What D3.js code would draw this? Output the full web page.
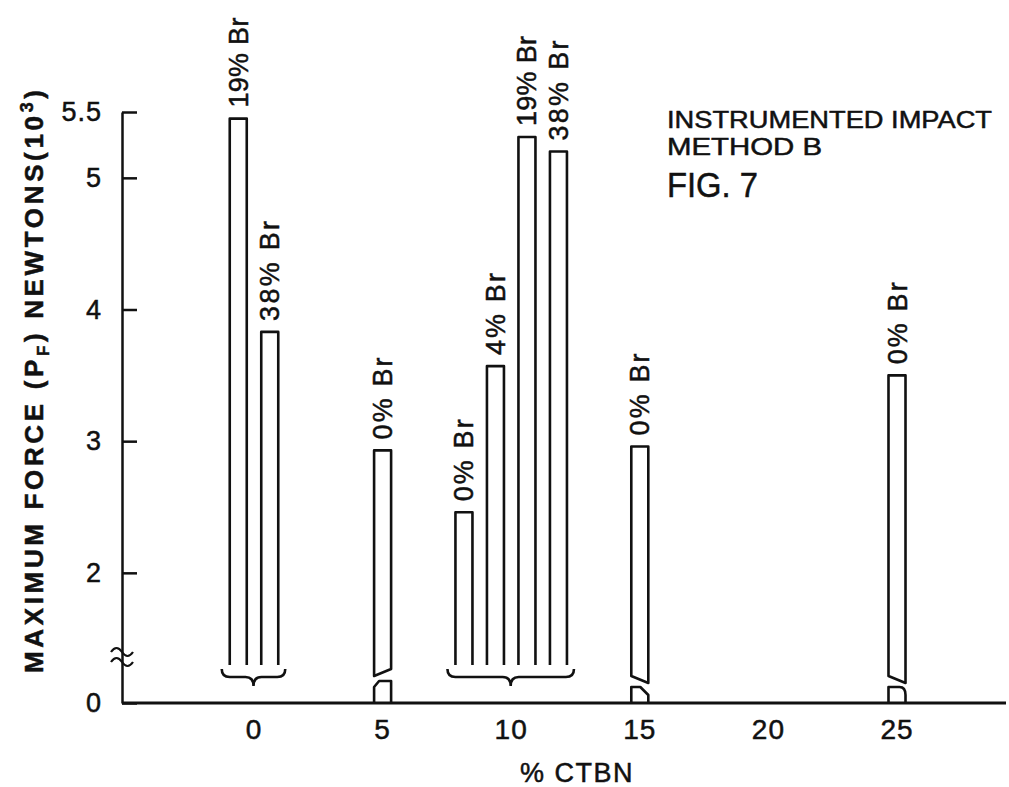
<!DOCTYPE html>
<html>
<head>
<meta charset="utf-8">
<script src="https://cdn.jsdelivr.net/npm/d3@7"></script>
<style>
  body { margin: 0; background: #fff; }
  svg { display: block; background: #fff; }
  text { font-family: "Liberation Sans", Arial, sans-serif; fill: #111; stroke: #111; stroke-width: 0.5; }
</style>
</head>
<body>
<div class="chart"></div>
<script>
// values (force in 10^3 N)
var ctbn = [0, 0, 5, 10, 10, 10, 10, 15, 25];
var bromine = ['19% Br', '38% Br', '0% Br', '0% Br', '4% Br', '19% Br', '38% Br', '0% Br', '0% Br'];
var maxForce = [5.45, 3.83, 2.93, 2.46, 3.57, 5.31, 5.20, 2.96, 3.50];

var xTicks = [0, 5, 10, 15, 20, 25];
var yTicks = [0, 2, 3, 4, 5, 5.5];
var yBreak = 1.3; // axis is broken below this value

var width = 1009, height = 787;
var axisX = 122;

// bar break drawing: slant of the cut for the single bars
var slant = { 5: -1, 15: 1, 25: 1 };

// rough glyph widths of the hand lettering, used to size the bar labels
function letterWidth(s) {
  return d3.sum(s.split(''), function(c) {
    if (c === '1') return 8;
    if (c === ' ') return 10;
    if (c === '%') return 22;
    if (c === 'r') return 14;
    return 18;
  });
}

var x = d3.scaleLinear().domain([0, 25]).range([254, 897]);
var y = d3.scaleLinear().domain([0, yBreak, 5.5]).range([703, 665, 112]);

var bars = ctbn.map(function(c, i) {
  return { ctbn: c, br: bromine[i], value: maxForce[i] };
});
var groups = d3.group(bars, function(d) { return d.ctbn; });

var step = 31.5;
groups.forEach(function(list, c) {
  var n = list.length;
  var sub = d3.scaleBand().domain(d3.range(n))
    .range([-n * step / 2, n * step / 2])
    .paddingInner(0.46).paddingOuter(0.23);
  list.forEach(function(d, i) {
    d.x0 = x(c) + sub(i);
    d.w = sub.bandwidth();
    d.n = n;
  });
});

var svg = d3.select('.chart').append('svg')
  .attr('width', width)
  .attr('height', height);

// y axis, ticks pointing inward
var yAxis = d3.axisLeft(y)
  .tickValues(yTicks)
  .tickSize(-15)
  .tickSizeOuter(0)
  .tickPadding(20)
  .tickFormat(function(d) { return d; });

var gy = svg.append('g')
  .attr('transform', 'translate(' + axisX + ',0)')
  .call(yAxis);
gy.select('.domain').attr('stroke', '#111').attr('stroke-width', 2.5);
gy.selectAll('.tick line').attr('stroke', '#111').attr('stroke-width', 2.5);
gy.selectAll('.tick text')
  .attr('font-size', 27)
  .attr('letter-spacing', 1)
  .style('font-family', '"Liberation Sans", Arial, sans-serif')
  .attr('fill', '#111');

// axis break squiggle
[y(yBreak) - 15, y(yBreak) - 5].forEach(function(yy) {
  svg.append('path')
    .attr('d', 'M' + (axisX - 11) + ',' + (yy + 2) + ' q5.5,-8 11,0 t11,0')
    .attr('fill', 'none')
    .attr('stroke', '#111')
    .attr('stroke-width', 2.2);
});

// x axis baseline
svg.append('line')
  .attr('x1', axisX).attr('x2', 1006)
  .attr('y1', y(0)).attr('y2', y(0))
  .attr('stroke', '#111')
  .attr('stroke-width', 3);

svg.append('g').selectAll('text')
  .data(xTicks)
  .enter().append('text')
  .attr('x', function(d) { return x(d); })
  .attr('y', 739)
  .attr('text-anchor', 'middle')
  .attr('font-size', 28)
  .attr('letter-spacing', 1)
  .text(function(d) { return d; });

// bars
var yb = y(yBreak);
var y0 = y(0);
var barG = svg.append('g')
  .attr('fill', '#fff')
  .attr('stroke', '#111')
  .attr('stroke-width', 2.6)
  .attr('stroke-linejoin', 'round');

bars.forEach(function(d) {
  var xl = d.x0, xr = d.x0 + d.w, yt = y(d.value);
  if (d.n > 1) {
    // grouped bars stop at the break, brace below
    barG.append('path')
      .attr('d', 'M' + xl + ',' + yb + 'V' + yt + 'H' + xr + 'V' + yb);
  } else {
    var s = slant[d.ctbn] || 1;
    var yl = yb + 11, yr = yb + 11 + 7 * s;
    barG.append('path')
      .attr('d', 'M' + xl + ',' + yl + 'V' + yt + 'H' + xr + 'V' + yr + 'Z');
    var lower;
    if (s < 0) {
      lower = 'M' + xl + ',' + y0 + 'V' + (yb + 22) + 'L' + (xl + 5) + ',' + (yb + 16) +
        'H' + xr + 'V' + y0;
    } else if (d.ctbn === 15) {
      lower = 'M' + xl + ',' + y0 + 'V' + (yb + 22) + 'H' + (xr - 8) +
        'L' + xr + ',' + (yb + 30) + 'V' + y0;
    } else {
      lower = 'M' + xl + ',' + y0 + 'V' + (yb + 22) + 'H' + (xr - 6) +
        'Q' + xr + ',' + (yb + 22) + ' ' + xr + ',' + (yb + 30) + 'V' + y0;
    }
    barG.append('path').attr('d', lower).attr('fill', 'none');
  }
});

// braces under grouped bars
groups.forEach(function(list, c) {
  if (list.length < 2) return;
  var x0 = list[0].x0 - 8;
  var x1 = list[list.length - 1].x0 + list[list.length - 1].w + 7;
  var cx = (x0 + x1) / 2;
  var top = yb + 4, mid = yb + 12, tip = yb + 21;
  svg.append('path')
    .attr('d', 'M' + x0 + ',' + top + 'q0,8 8,8H' + (cx - 8) + 'q8,0 8,' + (tip - mid) +
      'q0,' + (mid - tip) + ' 8,' + (mid - tip) + 'H' + (x1 - 8) + 'q8,0 8,-8')
    .attr('fill', 'none')
    .attr('stroke', '#111')
    .attr('stroke-width', 2.6);
});

// bar labels, written upward
svg.append('g').selectAll('text')
  .data(bars)
  .enter().append('text')
  .attr('transform', function(d) {
    return 'translate(' + (d.x0 + d.w + 1) + ',' + (y(d.value) - 11) + ') rotate(-90)';
  })
  .attr('font-size', 27)
  .attr('textLength', function(d) { return letterWidth(d.br); })
  .attr('lengthAdjust', 'spacing')
  .text(function(d) { return d.br; });

// axis titles
svg.append('text')
  .attr('x', 577)
  .attr('y', 782)
  .attr('text-anchor', 'middle')
  .attr('font-size', 27)
  .attr('letter-spacing', 1.5)
  .text('% CTBN');

var yt = svg.append('text')
  .attr('transform', 'translate(43,673) rotate(-90)')
  .attr('font-size', 26)
  .attr('font-weight', 'bold')
  .attr('stroke-width', 0)
  .attr('textLength', 583)
  .attr('lengthAdjust', 'spacing');
yt.append('tspan').text('MAXIMUM  FORCE  (P');
yt.append('tspan').attr('font-size', 17).attr('dy', 6).text('F');
yt.append('tspan').attr('dy', -6).text(')  NEWTONS(10');
yt.append('tspan').attr('font-size', 18).attr('dy', -10).text('3');
yt.append('tspan').attr('dy', 10).text(')');

// annotation block
svg.append('text')
  .attr('x', 667).attr('y', 128)
  .attr('font-size', 24)
  .attr('textLength', 325)
  .attr('lengthAdjust', 'spacingAndGlyphs')
  .text('INSTRUMENTED IMPACT');
svg.append('text')
  .attr('x', 667).attr('y', 155)
  .attr('font-size', 24)
  .attr('textLength', 155)
  .attr('lengthAdjust', 'spacingAndGlyphs')
  .text('METHOD B');
svg.append('text')
  .attr('x', 667).attr('y', 197)
  .attr('font-size', 35)
  .attr('textLength', 91)
  .attr('lengthAdjust', 'spacingAndGlyphs')
  .text('FIG. 7');
</script>
</body>
</html>
